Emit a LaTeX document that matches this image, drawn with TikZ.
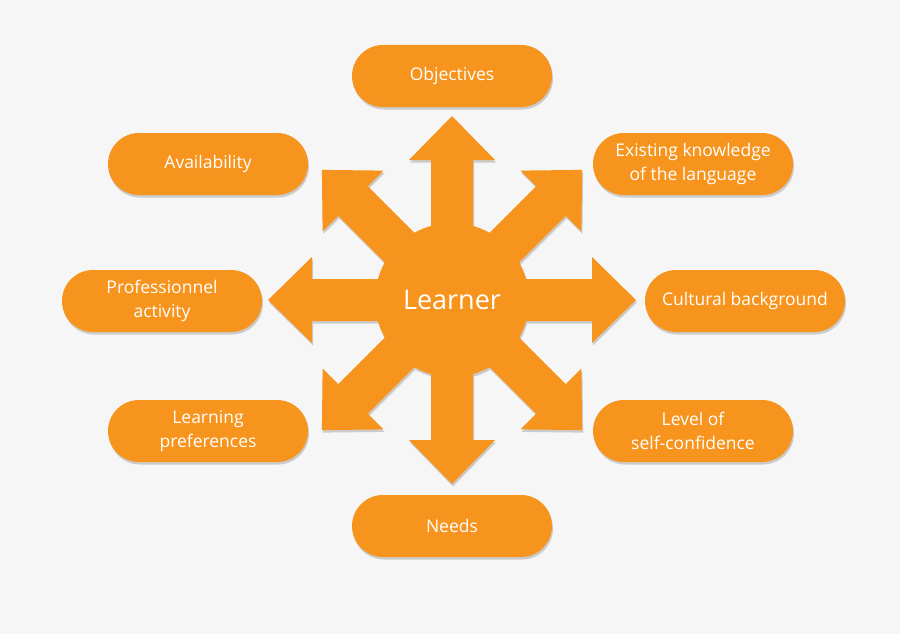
\documentclass[tikz,border=0pt]{standalone}
\usepackage{fontspec}
\setmainfont{Open Sans}
\usetikzlibrary{shadows}
\definecolor{learnorange}{HTML}{F7941D}
\definecolor{canvasgray}{HTML}{F6F6F6}
\tikzstyle{softshadow} = [drop shadow={shadow xshift=1pt, shadow yshift=-2.5pt, opacity=0.25, fill=black!70}]
\tikzstyle{pill} = [rectangle, rounded corners=31pt, 
minimum width=200pt, 
minimum height=62pt,
align=center, 
fill=learnorange, 
text=white,
font=\fontsize{17.5}{24.5}\selectfont,
softshadow]

\begin{document}
\begin{tikzpicture}[x=1pt, y=-1pt]

	% canvas
	\fill[canvasgray] (0,0) rectangle (900,634);
	\coordinate (hub) at (452,300);

	% star of arrows with the hub circle
	\fill[learnorange, softshadow] (hub) circle[radius=77pt]
		foreach \a in {0,45,...,315} {
			{[shift={(hub)}, rotate=\a] (0,21) -- (140,21) -- (140,43) -- (184,0) -- (140,-43) -- (140,-21) -- (0,-21) -- cycle}
		};
	\node[circle, minimum size=154pt, text=white, font=\fontsize{27}{32}\selectfont] (learner) at (hub) {Learner};

	% surrounding factors
	\node[pill] (objectives) at (452,76) {Objectives};
	\node[pill] (knowledge) at (693,164) {Existing knowledge \\ of the language};
	\node[pill] (availability) at (208,164) {Availability};
	\node[pill] (activity) at (162,301) {Professionnel \\ activity};
	\node[pill] (culture) at (745,301) {Cultural background};
	\node[pill] (preferences) at (208,431) {Learning \\ preferences};
	\node[pill] (confidence) at (693,431) {Level of \\ self-confidence};
	\node[pill] (needs) at (452,526) {Needs};

\end{tikzpicture}
\end{document}
